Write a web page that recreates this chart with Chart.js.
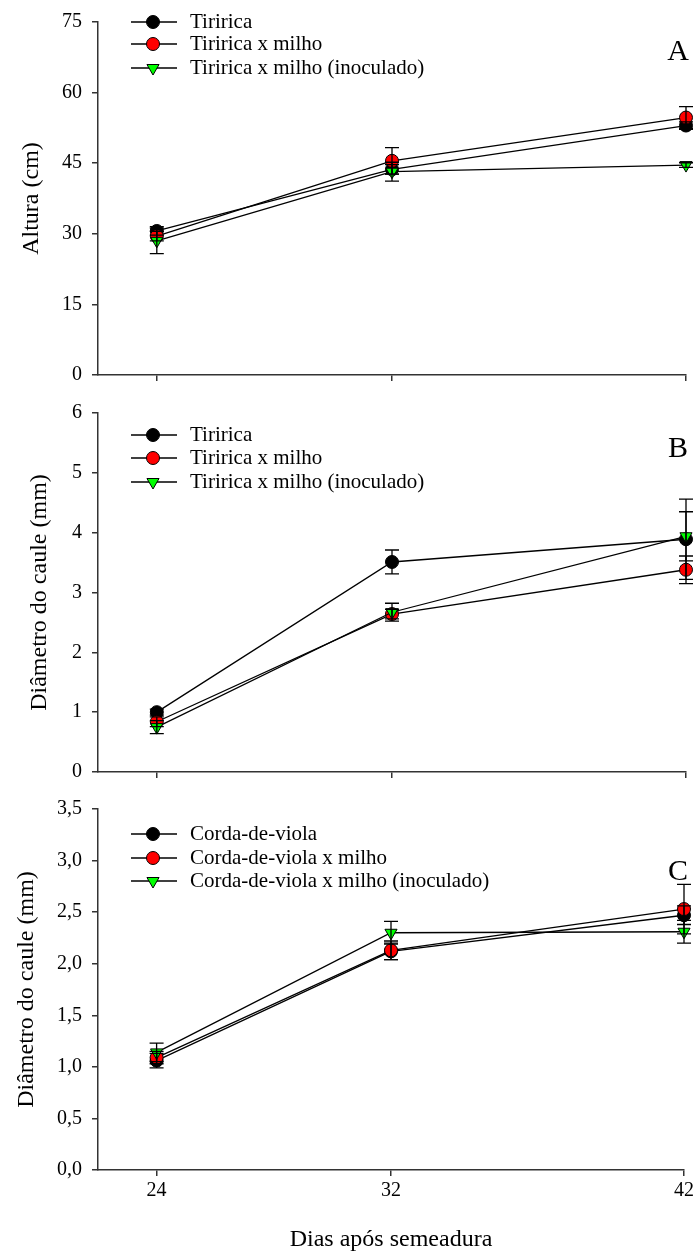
<!DOCTYPE html>
<html>
<head>
<meta charset="utf-8">
<script src="https://cdn.jsdelivr.net/npm/chart.js@4.4.1/dist/chart.umd.min.js"></script>
<style>
body{margin:0;background:#fff;}
#wrap{position:relative;width:697px;height:1256px;}
canvas{position:absolute;left:0;top:0;}
</style>
</head>
<body>
<div id="wrap">
<canvas id="chartA" width="697" height="1256"></canvas>
<canvas id="chartB" width="697" height="1256"></canvas>
<canvas id="chartC" width="697" height="1256"></canvas>
</div>
<script>
// dias apos semeadura
const days = [24, 32, 42]

// A - altura (cm)
const alturaTiririca = [30.6, 43.7, 53.0]
const alturaTiriricaErr = [0.9, 1.0, 0.8]
const alturaMilho = [29.5, 45.5, 54.7]
const alturaMilhoErr = [1.0, 2.8, 2.3]
const alturaInoc = [28.5, 43.2, 44.6]
const alturaInocErr = [2.7, 2.0, 0.5]

// B - diametro do caule (mm), tiririca
const diamTiririca = [1.00, 3.51, 3.89]
const diamTiriricaErr = [0.05, 0.20, 0.67]
const diamMilho = [0.84, 2.64, 3.38]
const diamMilhoErr = [0.08, 0.08, 0.23]
const diamInoc = [0.75, 2.67, 3.94]
const diamInocErr = [0.11, 0.15, 0.41]

// C - diametro do caule (mm), corda-de-viola
const corda = [1.06, 2.12, 2.47]
const cordaErr = [0.07, 0.08, 0.09]
const cordaMilho = [1.09, 2.13, 2.53]
const cordaMilhoErr = [0.06, 0.09, 0.24]
const cordaInoc = [1.14, 2.30, 2.31]
const cordaInocErr = [0.09, 0.11, 0.11]

const labelsTiririca = ["Tiririca", "Tiririca x milho", "Tiririca x milho (inoculado)"]
const labelsCorda = ["Corda-de-viola", "Corda-de-viola x milho", "Corda-de-viola x milho (inoculado)"]

const serif = '"Liberation Serif", "Times New Roman", serif'
Chart.defaults.font.family = serif
Chart.defaults.color = "#000"

const styles = [
    {fill: "#000000", pointStyle: "circle", rotation: 0, radius: 6.5},
    {fill: "#ff0000", pointStyle: "circle", rotation: 0, radius: 6.5},
    {fill: "#00ff00", pointStyle: "triangle", rotation: 180, radius: 7}
]

function makePanel(id, p){
    const datasets = p.values.map((vals, k) => ({
        label: p.labels[k],
        data: vals.map((v, i) => ({x: days[i], y: v})),
        borderColor: "#000",
        borderWidth: 1.3,
        backgroundColor: styles[k].fill,
        pointBackgroundColor: styles[k].fill,
        pointBorderColor: "#000",
        pointBorderWidth: 1,
        pointStyle: styles[k].pointStyle,
        pointRotation: styles[k].rotation,
        pointRadius: styles[k].radius,
        order: 2 - k,
        clip: false
    }))

    const extras = {
        id: "extras" + id,
        afterDatasetsDraw(chart){
            const ctx = chart.ctx
            const xs = chart.scales.x, ys = chart.scales.y
            ctx.save()
            ctx.strokeStyle = "#000"
            ctx.lineWidth = 1.3
            p.values.forEach((vals, k) => {
                vals.forEach((v, i) => {
                    const e = p.errors[k][i]
                    const x = xs.getPixelForValue(days[i])
                    const y1 = ys.getPixelForValue(v + e)
                    const y2 = ys.getPixelForValue(v - e)
                    ctx.beginPath()
                    ctx.moveTo(x, y1); ctx.lineTo(x, y2)
                    ctx.moveTo(x - 7, y1); ctx.lineTo(x + 7, y1)
                    ctx.moveTo(x - 7, y2); ctx.lineTo(x + 7, y2)
                    ctx.stroke()
                })
            })
            ctx.restore()
        },
        afterDraw(chart){
            const ctx = chart.ctx
            ctx.save()
            p.labels.forEach((lab, k) => {
                const y = p.legendRows[k]
                ctx.strokeStyle = "#000"
                ctx.lineWidth = 1.3
                ctx.beginPath()
                ctx.moveTo(131, y); ctx.lineTo(177, y)
                ctx.stroke()
                ctx.fillStyle = styles[k].fill
                ctx.lineWidth = 1
                Chart.helpers.drawPoint(ctx, {
                    pointStyle: styles[k].pointStyle,
                    rotation: styles[k].rotation,
                    radius: styles[k].radius,
                    borderWidth: 1
                }, 153, y)
                ctx.fillStyle = "#000"
                ctx.font = "21px " + serif
                ctx.textAlign = "left"
                ctx.textBaseline = "middle"
                ctx.fillText(lab, 190, y)
            })
            // panel letter
            ctx.font = "30px " + serif
            ctx.textAlign = "center"
            ctx.textBaseline = "alphabetic"
            ctx.fillText(p.letter, 678, p.letterY)
            ctx.restore()
        }
    }

    const xH = p.showX ? 1256 - p.bottom : 10
    new Chart(document.getElementById(id), {
        type: "line",
        data: {datasets},
        options: {
            responsive: false,
            animation: false,
            events: [],
            layout: {padding: {left: 0, right: 11, top: p.top, bottom: 1256 - p.bottom - xH}},
            plugins: {legend: {display: false}, tooltip: {enabled: false}},
            scales: {
                x: {
                    type: "linear",
                    min: 22, max: 42,
                    afterBuildTicks: axis => { axis.ticks = days.map(v => ({value: v})) },
                    afterFit: axis => { axis.height = xH },
                    grid: {drawOnChartArea: false, tickLength: 6, color: "#333", lineWidth: 1.5},
                    border: {display: true, color: "#333", width: 1.5},
                    ticks: {display: p.showX, padding: 3, font: {size: 20}, color: "#000", maxRotation: 0},
                    title: {display: p.showX, text: "Dias após semeadura", font: {size: 24}, color: "#000", padding: {top: 0, bottom: 1.6}}
                },
                y: {
                    min: p.yMin, max: p.yMax,
                    ticks: {stepSize: p.yStep, padding: 10, font: {size: 20}, color: "#000",
                        callback: v => p.fmt(v)},
                    afterFit: axis => { axis.width = 98 },
                    grid: {drawOnChartArea: false, tickLength: 6, color: "#333", lineWidth: 1.5},
                    border: {display: true, color: "#333", width: 1.5},
                    title: {display: true, text: p.yTitle, font: {size: 24}, color: "#000",
                        padding: {top: p.titleX - 14.4, bottom: 0}}
                }
            }
        },
        plugins: [extras]
    })
}

makePanel("chartA", {
    top: 17, bottom: 375, yMin: 0, yMax: 75, yStep: 15, fmt: v => v,
    yTitle: "Altura (cm)", titleX: 32,
    values: [alturaTiririca, alturaMilho, alturaInoc],
    errors: [alturaTiriricaErr, alturaMilhoErr, alturaInocErr],
    labels: labelsTiririca, legendRows: [22, 44, 68],
    letter: "A", letterY: 60, showX: false
})

makePanel("chartB", {
    top: 413, bottom: 772, yMin: 0, yMax: 6, yStep: 1, fmt: v => v,
    yTitle: "Diâmetro do caule (mm)", titleX: 40,
    values: [diamTiririca, diamMilho, diamInoc],
    errors: [diamTiriricaErr, diamMilhoErr, diamInocErr],
    labels: labelsTiririca, legendRows: [435, 458, 482],
    letter: "B", letterY: 457, showX: false
})

makePanel("chartC", {
    top: 809, bottom: 1170, yMin: 0, yMax: 3.5, yStep: 0.5, fmt: v => v.toFixed(1).replace(".", ","),
    yTitle: "Diâmetro do caule (mm)", titleX: 27,
    values: [corda, cordaMilho, cordaInoc],
    errors: [cordaErr, cordaMilhoErr, cordaInocErr],
    labels: labelsCorda, legendRows: [834, 858, 881],
    letter: "C", letterY: 880, showX: true
})
</script>
</body>
</html>
